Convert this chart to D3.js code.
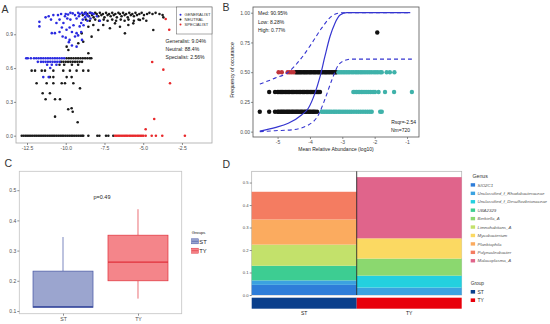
<!DOCTYPE html>
<html>
<head>
<meta charset="utf-8">
<script src="https://cdn.jsdelivr.net/npm/d3@7"></script>
<style>
body { margin: 0; background: #fff; }
svg { font-family: "Liberation Sans", Arial, sans-serif; }
</style>
</head>
<body>
<svg id="fig" width="550" height="324"></svg>
<script>
// ---------- panel A : occurrence vs log abundance ----------
const aGeneralist = [
  [-11.7,1.01],[-11.7,0.97],[-11.3,1.05],[-11.1,1.06],[-10.95,1.03],[-10.8,1.07],[-10.6,1.0],[-10.5,1.07],
  [-10.4,1.03],[-10.3,1.08],[-10.25,0.96],[-10.15,1.0],[-10.05,1.06],[-10.0,1.08],[-9.9,1.04],[-9.85,1.075],
  [-9.75,0.96],[-9.7,1.03],[-9.7,1.09],[-9.55,1.085],[-9.5,0.98],[-9.4,1.07],[-9.3,1.04],[-9.2,1.09],
  [-9.15,1.06],[-9.1,1.08],[-9.1,0.97],[-9.0,1.0],[-8.95,1.09],[-8.9,1.03],[-8.85,0.98],[-8.8,1.08],
  [-8.75,1.05],[-8.7,1.09],[-8.65,1.07],[-8.6,1.02],[-8.55,1.06],[-8.45,1.09],[-8.4,1.04],[-8.3,1.085],
  [-8.2,1.08],[-7.99,1.06],[-7.8,1.02],
  [-10.9,0.91],[-10.7,0.91],[-10.4,0.92],[-10.2,0.88],[-10.0,0.87],[-9.95,0.94],[-9.8,0.83],[-9.75,0.85],
  [-9.6,0.92],[-9.6,0.8],[-9.4,0.88],[-9.3,0.91],[-9.3,0.79],[-9.2,0.89],[-9.0,0.92],[-8.95,0.85],
  [-12.55,0.687],[-12.45,0.687],[-12.25,0.687],[-12.05,0.687],[-11.9,0.687],[-11.75,0.687],[-11.6,0.687],
  [-11.45,0.687],[-11.3,0.687],[-11.15,0.687],[-11.0,0.687],[-10.85,0.687],[-10.7,0.687],[-10.55,0.687],
  [-10.4,0.687],[-10.25,0.687],[-10.1,0.687],
  [-11.8,0.655],[-11.6,0.655],[-11.45,0.655],[-11.3,0.655],[-11.15,0.655],[-11.0,0.655],[-10.85,0.655],
  [-10.7,0.655],[-10.55,0.655],[-10.4,0.655],
  [-11.2,0.63],[-10.9,0.63],[-10.6,0.63],[-11.0,0.6],[-11.45,0.52],[-11.1,0.52]
];
const aNeutral = [
  [-8.9,1.07],[-8.75,1.09],[-8.6,1.08],[-8.5,1.06],[-8.4,1.09],[-8.3,1.07],[-8.2,1.05],[-8.1,1.09],
  [-8.0,1.08],[-7.9,1.06],[-7.8,1.09],[-7.7,1.07],[-7.6,1.08],[-7.5,1.05],[-7.4,1.09],[-7.3,1.07],
  [-7.2,1.08],[-7.1,1.06],[-7.0,1.09],[-6.9,1.07],[-6.8,1.08],[-6.7,1.05],[-6.6,1.09],[-6.5,1.08],
  [-6.4,1.06],[-6.3,1.09],[-6.2,1.07],[-6.1,1.08],[-6.0,1.05],[-5.9,1.09],[-5.8,1.07],[-5.7,1.08],
  [-5.6,1.06],[-5.5,1.09],[-5.4,1.07],[-5.25,1.08],[-5.1,1.09],[-4.95,1.07],[-4.75,1.08],[-4.6,1.09],
  [-4.4,1.08],[-4.2,1.09],[-3.95,1.08],[-3.75,1.07],[-3.7,1.05],
  [-8.7,1.03],[-8.45,1.02],[-8.1,1.03],[-7.85,1.02],[-7.55,1.03],[-7.3,1.02],[-7.0,1.03],[-6.75,1.02],
  [-6.45,1.03],[-6.2,1.02],[-5.95,1.03],[-5.6,1.02],[-5.3,1.03],[-5.0,1.04],[-4.8,1.02],
  [-8.97,0.908],[-8.54,0.967],[-8.22,0.982],[-7.9,0.938],[-7.58,0.982],[-7.15,0.953],[-6.82,0.997],
  [-6.5,0.967],[-6.18,0.908],[-5.96,0.982],[-5.64,0.997],[-5.21,1.027],[-4.35,0.938],[-8.87,0.834],
  [-8.33,0.879],[-9.19,0.82],[-9.83,0.76],[-9.94,0.79],[-8.54,0.731],
  [-9.95,0.687],[-9.8,0.687],[-9.65,0.687],[-9.5,0.687],[-9.35,0.687],[-9.2,0.687],[-9.05,0.687],
  [-8.9,0.687],[-8.75,0.687],[-8.6,0.687],[-8.45,0.687],[-8.35,0.687],
  [-10.3,0.655],[-10.15,0.655],[-10.0,0.655],[-9.85,0.655],[-9.7,0.655],[-9.55,0.655],[-9.4,0.655],
  [-9.25,0.655],[-9.1,0.655],[-8.95,0.655],[-10.4,0.63],[-10.1,0.63],[-9.6,0.63],[-9.2,0.63],
  [-12.2,0.577],[-11.98,0.577],[-11.55,0.577],[-11.34,0.577],[-10.8,0.577],[-10.16,0.577],[-9.73,0.577],
  [-9.3,0.577],[-8.87,0.577],[-8.54,0.577],[-11.02,0.52],[-10.8,0.52],[-9.94,0.52],[-9.62,0.52],
  [-11.88,0.465],[-11.23,0.465],[-10.8,0.465],[-10.26,0.465],[-10.05,0.465],[-9.51,0.465],[-9.08,0.42],
  [-11.49,0.376],[-11.02,0.376],[-11.3,0.323],[-10.69,0.323],[-10.37,0.323],[-9.84,0.234],[-9.62,0.243],
  [-9.55,0.213],[-10.69,0.169],[-9.23,0.119],
  [-12.84,0],[-12.72,0],[-12.6,0],[-12.49,0],[-12.37,0],[-12.25,0],[-12.13,0],[-12.01,0],[-11.9,0],
  [-11.78,0],[-11.66,0],[-11.54,0],[-11.42,0],[-11.31,0],[-11.19,0],[-11.07,0],[-10.95,0],[-10.83,0],
  [-10.72,0],[-10.6,0],[-10.48,0],[-10.36,0],[-10.24,0],[-10.13,0],[-10.01,0],[-9.89,0],[-9.77,0],
  [-9.65,0],[-9.54,0],[-9.42,0],[-9.3,0],[-9.18,0],[-9.06,0],[-8.95,0],[-8.87,0],
  [-8.54,0],[-7.96,0],[-7.83,0],[-7.4,0],[-7.25,0],[-6.93,0]
];
const aSpecialist = [
  [-3.55,1.035],[-3.32,0.94],[-4.42,0.654],[-3.7,0.586],[-3.27,0.465],[-4.29,0.148],[-4.84,0.057],
  [-6.82,0],[-6.72,0],[-6.62,0],[-6.52,0],[-6.42,0],[-6.31,0],[-6.21,0],[-6.11,0],[-6.01,0],[-5.9,0],
  [-5.8,0],[-5.7,0],[-5.6,0],[-5.5,0],[-5.39,0],[-5.29,0],[-5.19,0],[-5.09,0],[-4.99,0],
  [-4.84,0],[-4.45,0],[-4.18,0],[-3.77,0],[-2.31,0]
];
const aXTicks = [-12.5, -10, -7.5, -5, -2.5];
const aYTicks = [0, 0.3, 0.6, 0.9];
const aLegend = ["GENERALIST", "NEUTRAL", "SPECIALIST"];
const aStats = ["Generalist: 9.04%", "Neutral: 88.4%", "Specialist: 2.56%"];

// ---------- panel B : neutral model fit ----------
const bRowLevels = [0.5, 0.333, 0.167];
const bBelowRows = [[-4.97,-4.87,-4.69,-4.63,-4.57,-4.51], [], []];
const bNeutralRows = [
  [-4.45,-4.41,-4.37,-4.33,-4.29,-4.25,-4.2,-4.16,-4.12,-4.08,-4.03,-3.99,-3.95,-3.9,-3.86,-3.82,-3.77,
   -3.73,-3.69,-3.64,-3.6,-3.55,-3.51,-3.47,-3.42,-3.38,-3.33,-3.29,-3.25,-3.21,-3.18],
  [-5.26,-5.08,-5.0,-4.96,-4.92,-4.88,-4.84,-4.8,-4.75,-4.71,-4.67,-4.63,-4.58,-4.54,-4.5,-4.46,-4.41,
   -4.37,-4.33,-4.29,-4.24,-4.2,-4.16,-4.11,-4.07,-4.03,-3.98,-3.94,-3.9,-3.85,-3.81,-3.77,-3.73,-3.69],
  [-5.55,-5.26,-5.08,-5.0,-4.96,-4.91,-4.87,-4.83,-4.79,-4.74,-4.7,-4.66,-4.62,-4.57,-4.53,-4.49,-4.44,
   -4.4,-4.36,-4.31,-4.27,-4.23,-4.18,-4.14,-4.1,-4.05,-4.01,-3.97,-3.92,-3.88,-3.84,-3.78]
];
const bAboveRows = [
  [-3.12,-3.07,-3.02,-2.97,-2.92,-2.87,-2.82,-2.77,-2.71,-2.66,-2.6,-2.55,-2.5,-2.44,-2.39,-2.33,-2.27,
   -2.21,-2.15,-2.09,-2.02,-1.96,-1.9,-1.83,-1.78,-1.63,-1.53,-1.39],
  [-2.66,-2.61,-2.56,-2.51,-2.46,-2.41,-2.36,-2.3,-2.24,-2.18,-2.12,-2.05,-1.99,-1.88,-1.68,-1.4,-0.85],
  [-3.64,-3.59,-3.54,-3.49,-3.44,-3.39,-3.34,-3.28,-3.23,-3.18,-3.12,-3.07,-3.01,-2.95,-2.89,-2.83,-2.77,
   -2.71,-2.64,-2.57,-2.5,-2.43,-2.36,-2.29,-2.22,-2.15,-2.09,-1.83,-1.78]
];
const bExtra = [[-1.92, 0.833]];
const bFitX = [-5.55,-5.08,-4.67,-4.26,-4.05,-3.85,-3.69,-3.54,-3.38,-3.23,-3.07,-2.86,-2.6,-0.9];
const bFitY = [0.005,0.034,0.07,0.14,0.197,0.32,0.46,0.63,0.8,0.91,0.98,1.0,1.0,1.0];
const bUpperX = [-5.55,-5.08,-4.67,-4.26,-3.95,-3.64,-3.33,-3.02,-2.8,-0.9];
const bUpperY = [0.40,0.45,0.50,0.62,0.74,0.87,0.97,1.0,1.0,1.0];
const bLowerX = [-5.55,-5.08,-4.57,-4.05,-3.74,-3.54,-3.33,-3.12,-2.91,-2.71,-0.85];
const bLowerY = [0.0,0.008,0.015,0.056,0.14,0.27,0.43,0.56,0.60,0.61,0.61];
const bXTicks = [-5, -4, -3, -2, -1];
const bYTicks = [0, 0.25, 0.5, 0.75, 1];
const bStats = ["Med: 90.95%", "Low: 8.28%", "High: 0.77%"];

// ---------- panel C : boxplot ----------
const cGroups = ["ST", "TY"];
const cQ1 = [0.112, 0.2];
const cMedian = [0.114, 0.262];
const cQ3 = [0.232, 0.351];
const cLow = [0.112, 0.141];
const cHigh = [0.345, 0.437];
const cYTicks = [0.1, 0.2, 0.3, 0.4, 0.5];

// ---------- panel D : stacked genus composition ----------
const dGenus = ["SIO2C1", "Unclassified_f_Rhodobacteraceae", "Unclassified_f_Desulfovibrionaceae",
  "UBA2329", "Berkiella_A", "Limnohabitans_A", "Mycobacterium", "Planktophila",
  "Polynucleobacter", "Malacoplasma_A"];
const dST = [0.045, 0.02, 0, 0.065, 0, 0.094, 0, 0.112, 0.123, 0];
const dTY = [0, 0.033, 0.053, 0, 0.076, 0, 0.09, 0, 0, 0.272];
const dGroups = ["ST", "TY"];
const dYTicks = [0, 0.1, 0.2, 0.3, 0.4, 0.5];

const FONT = '"Liberation Sans", Arial, sans-serif';
const svg = d3.select("#fig");

function styleAxis(g, fs) {
  g.attr("font-family", FONT).attr("font-size", fs);
  g.select(".domain").remove();
  g.selectAll(".tick line").attr("stroke", "#444").attr("stroke-width", 0.6);
  g.selectAll(".tick text").attr("fill", "#4d4d4d");
}

function letter(t, x, y) {
  svg.append("text").attr("x", x).attr("y", y).attr("font-size", 10.5)
    .attr("fill", "#333").text(t);
}

// ================= A =================
const ax = d3.scaleLinear().domain([-13.21, -0.56]).range([16, 212]);
const ay = d3.scaleLinear().domain([-0.065, 1.142]).range([143, 7]);
const gA = svg.append("g");
gA.append("rect").attr("x", 16).attr("y", 7).attr("width", 196).attr("height", 136)
  .attr("fill", "none").attr("stroke", "#a8a8a8").attr("stroke-width", 0.8);
gA.append("g").attr("transform", "translate(0,143)")
  .call(d3.axisBottom(ax).tickValues(aXTicks).tickFormat(d => d.toFixed(1)).tickSize(2).tickPadding(1))
  .call(g => styleAxis(g, 5));
gA.append("g").attr("transform", "translate(16,0)")
  .call(d3.axisLeft(ay).tickValues(aYTicks).tickFormat(d => d.toFixed(1)).tickSize(2).tickPadding(1))
  .call(g => styleAxis(g, 5));

[[aNeutral, "#1a1a1a"], [aGeneralist, "#2a2ae0"], [aSpecialist, "#e8282b"]].forEach(([pts, col]) => {
  gA.append("g").selectAll("circle").data(pts).enter().append("circle")
    .attr("cx", d => ax(d[0])).attr("cy", d => ay(d[1])).attr("r", 1.3).attr("fill", col);
});

const legA = gA.append("g");
legA.append("rect").attr("x", 176.7).attr("y", 7).attr("width", 35.3).attr("height", 27)
  .attr("fill", "#fff").attr("stroke", "#555").attr("stroke-width", 0.5);
const legCols = ["#2a2ae0", "#1a1a1a", "#e8282b"];
aLegend.forEach((t, i) => {
  legA.append("circle").attr("cx", 180.5).attr("cy", 14.7 + i * 4.9).attr("r", 1).attr("fill", legCols[i]);
  legA.append("text").attr("x", 184.5).attr("y", 16.2 + i * 4.9).attr("font-size", 4.1)
    .attr("fill", "#333").text(t);
});
aStats.forEach((t, i) => {
  gA.append("text").attr("x", 165.5).attr("y", 43.3 + i * 7.9).attr("font-size", 5.1)
    .attr("fill", "#222").text(t);
});
letter("A", 1.5, 12.5);

// ================= B =================
const bx = d3.scaleLinear().domain([-5.76, -0.63]).range([253, 419]);
const by = d3.scaleLinear().domain([-0.045, 1.048]).range([137, 7]);
const gB = svg.append("g");
svg.append("clipPath").attr("id", "clipB").append("rect")
  .attr("x", 253).attr("y", 7).attr("width", 166).attr("height", 130);
gB.append("g").attr("transform", "translate(0,137)")
  .call(d3.axisBottom(bx).tickValues(bXTicks).tickFormat(d => d).tickSize(2).tickPadding(1))
  .call(g => styleAxis(g, 5));
gB.append("g").attr("transform", "translate(253,0)")
  .call(d3.axisLeft(by).tickValues(bYTicks).tickFormat(d3.format(".2f")).tickSize(2).tickPadding(1))
  .call(g => styleAxis(g, 5));

function rowPoints(rows) {
  const out = [];
  rows.forEach((xs, i) => xs.forEach(x => out.push([x, bRowLevels[i]])));
  return out;
}
[[rowPoints(bNeutralRows).concat(bExtra), "#111"], [rowPoints(bAboveRows), "#3fb2aa"],
 [rowPoints(bBelowRows), "#c0343a"]].forEach(([pts, col]) => {
  gB.append("g").selectAll("circle").data(pts).enter().append("circle")
    .attr("cx", d => bx(d[0])).attr("cy", d => by(d[1])).attr("r", 2.2).attr("fill", col);
});

const curveG = gB.append("g").attr("clip-path", "url(#clipB)");
const line = d3.line().x(d => bx(d[0])).y(d => by(d[1])).curve(d3.curveMonotoneX);
curveG.append("path").attr("d", line(d3.zip(bUpperX, bUpperY))).attr("fill", "none")
  .attr("stroke", "#3535d0").attr("stroke-width", 1.1).attr("stroke-dasharray", "4,3");
curveG.append("path").attr("d", line(d3.zip(bLowerX, bLowerY))).attr("fill", "none")
  .attr("stroke", "#3535d0").attr("stroke-width", 1.1).attr("stroke-dasharray", "4,3");
curveG.append("path").attr("d", line(d3.zip(bFitX, bFitY))).attr("fill", "none")
  .attr("stroke", "#3535d0").attr("stroke-width", 1.2);

gB.append("rect").attr("x", 253).attr("y", 7).attr("width", 166).attr("height", 130)
  .attr("fill", "none").attr("stroke", "#555").attr("stroke-width", 0.8);
bStats.forEach((t, i) => {
  gB.append("text").attr("x", 258).attr("y", 15 + i * 8.6).attr("font-size", 5)
    .attr("fill", "#222").text(t);
});
gB.append("text").attr("x", 416).attr("y", 124).attr("text-anchor", "end").attr("font-size", 5)
  .attr("fill", "#222").text("Rsqr=-2.54");
gB.append("text").attr("x", 410).attr("y", 131.5).attr("text-anchor", "end").attr("font-size", 5)
  .attr("fill", "#222").text("Nm=720");
gB.append("text").attr("x", 336).attr("y", 150.5).attr("text-anchor", "middle").attr("font-size", 5)
  .attr("fill", "#222").text("Mean Relative Abundance (log10)");
gB.append("text").attr("transform", "translate(234,70) rotate(-90)").attr("text-anchor", "middle")
  .attr("font-size", 5.2).attr("fill", "#222").text("Frequency of occurance");
letter("B", 222.5, 11);

// ================= C =================
const cx = d3.scalePoint().domain(cGroups).range([19.3, 181.7]).padding(0.583);
const cy = d3.scaleLinear().domain([0.091, 0.5626]).range([313.7, 171.3]);
const gC = svg.append("g");
gC.append("rect").attr("x", 19.3).attr("y", 171.3).attr("width", 162.4).attr("height", 142.4)
  .attr("fill", "none").attr("stroke", "#c4c4c4").attr("stroke-width", 0.8);
gC.append("g").attr("transform", "translate(0,313.7)")
  .call(d3.axisBottom(cx).tickSize(2).tickPadding(1.5))
  .call(g => styleAxis(g, 5.2));
gC.append("g").attr("transform", "translate(19.3,0)")
  .call(d3.axisLeft(cy).tickValues(cYTicks).tickFormat(d3.format(".1f")).tickSize(2).tickPadding(1))
  .call(g => styleAxis(g, 5));

const cFill = ["#9ba5cf", "#f4858a"];
const cStroke = ["#4455a3", "#e0303a"];
const boxW = 60;
cGroups.forEach((grp, i) => {
  const c = cx(grp);
  gC.append("line").attr("x1", c).attr("x2", c).attr("y1", cy(cHigh[i])).attr("y2", cy(cQ3[i]))
    .attr("stroke", cStroke[i]).attr("stroke-width", 0.7);
  gC.append("line").attr("x1", c).attr("x2", c).attr("y1", cy(cQ1[i])).attr("y2", cy(cLow[i]))
    .attr("stroke", cStroke[i]).attr("stroke-width", 0.7);
  gC.append("rect").attr("x", c - boxW / 2).attr("y", cy(cQ3[i])).attr("width", boxW)
    .attr("height", cy(cQ1[i]) - cy(cQ3[i])).attr("fill", cFill[i])
    .attr("stroke", cStroke[i]).attr("stroke-width", 0.7);
  gC.append("line").attr("x1", c - boxW / 2).attr("x2", c + boxW / 2)
    .attr("y1", cy(cMedian[i])).attr("y2", cy(cMedian[i]))
    .attr("stroke", cStroke[i]).attr("stroke-width", 1.3);
});
gC.append("text").attr("x", 102).attr("y", 199).attr("text-anchor", "middle").attr("font-size", 5.5)
  .attr("fill", "#222").text("p=0.49");
gC.append("text").attr("x", 191.7).attr("y", 234.3).attr("font-size", 4.2).attr("fill", "#222").text("Groups");
cGroups.forEach((grp, i) => {
  const yy = 238.8 + i * 9.4;
  gC.append("rect").attr("x", 191.7).attr("y", yy).attr("width", 6.6).attr("height", 5)
    .attr("fill", cFill[i]).attr("stroke", cStroke[i]).attr("stroke-width", 0.5);
  gC.append("line").attr("x1", 191.7).attr("x2", 198.3).attr("y1", yy + 2.5).attr("y2", yy + 2.5)
    .attr("stroke", cStroke[i]).attr("stroke-width", 0.6);
  gC.append("text").attr("x", 199.3).attr("y", yy + 4.8).attr("font-size", 5.8)
    .attr("fill", "#222").text(grp);
});
letter("C", 4.5, 166.5);

// ================= D =================
const dColors = ["#2e7dd9", "#3ba2e0", "#23d0df", "#3dcd92", "#8bd86f", "#c3e16b",
  "#fbd962", "#fbab5f", "#f47c61", "#e0648b"];
const dx = d3.scaleBand().domain(dGroups).range([251.7, 461.7]).padding(0);
const dy = d3.scaleLinear().domain([0, 0.55]).range([295, 171.3]);
const gD = svg.append("g");
const dTable = dGroups.map((grp, gi) => {
  const row = { group: grp };
  dGenus.forEach((gn, k) => { row[gn] = gi === 0 ? dST[k] : dTY[k]; });
  return row;
});
const stackD = d3.stack().keys(dGenus)(dTable);
gD.append("rect").attr("x", 251.7).attr("y", 171.3).attr("width", 210).attr("height", 123.7)
  .attr("fill", "none").attr("stroke", "#b0b0b0").attr("stroke-width", 0.7);
stackD.forEach((layer, k) => {
  gD.append("g").attr("fill", dColors[k]).selectAll("rect").data(layer).enter().append("rect")
    .attr("x", d => dx(d.data.group)).attr("width", dx.bandwidth())
    .attr("y", d => dy(d[1])).attr("height", d => dy(d[0]) - dy(d[1]));
});
gD.append("line").attr("x1", dx("TY")).attr("x2", dx("TY")).attr("y1", 171.3).attr("y2", 295)
  .attr("stroke", "#111").attr("stroke-width", 0.8);
gD.append("g").attr("transform", "translate(251.7,0)")
  .call(d3.axisLeft(dy).tickValues(dYTicks).tickFormat(d3.format(".1f")).tickSize(2).tickPadding(1))
  .call(g => styleAxis(g, 4.2));

const dGroupCol = ["#0a3f8c", "#e8000b"];
dGroups.forEach((grp, i) => {
  gD.append("rect").attr("x", dx(grp)).attr("y", 297.7).attr("width", dx.bandwidth()).attr("height", 11)
    .attr("fill", dGroupCol[i]);
  gD.append("text").attr("x", dx(grp) + dx.bandwidth() / 2).attr("y", 315).attr("text-anchor", "middle")
    .attr("font-size", 5).attr("fill", "#222").text(grp);
});

gD.append("text").attr("x", 472.5).attr("y", 177.5).attr("font-size", 5.2).attr("fill", "#333").text("Genus");
dGenus.forEach((gn, k) => {
  const yy = 183.2 + k * 8.43;
  gD.append("rect").attr("x", 470.7).attr("y", yy).attr("width", 4.4).attr("height", 3.4).attr("fill", dColors[k]);
  gD.append("text").attr("x", 477.5).attr("y", yy + 3.4).attr("font-size", 4.4).attr("font-style", "italic")
    .attr("fill", "#555").text(gn);
});
gD.append("text").attr("x", 470.7).attr("y", 284.5).attr("font-size", 4.8).attr("fill", "#333").text("Group");
dGroups.forEach((grp, i) => {
  const yy = 290 + i * 8.4;
  gD.append("rect").attr("x", 470.7).attr("y", yy).attr("width", 4.4).attr("height", 3.6).attr("fill", dGroupCol[i]);
  gD.append("text").attr("x", 477.5).attr("y", yy + 3.6).attr("font-size", 5).attr("fill", "#333").text(grp);
});
letter("D", 222.5, 168);
</script>
</body>
</html>
